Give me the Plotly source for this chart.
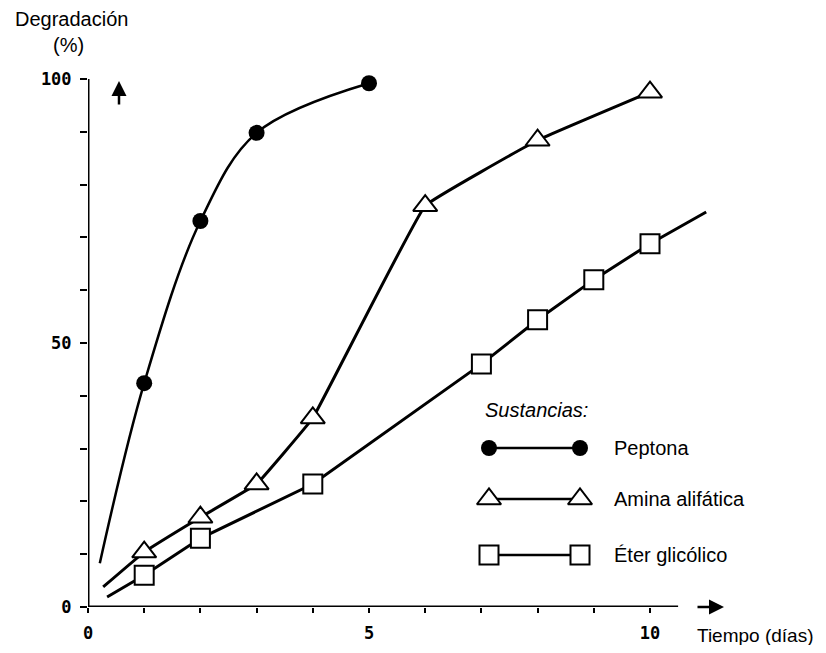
import plotly.graph_objects as go

# ---- data ----
pep_x = [0.21, 1, 2, 3, 5]
pep_y = [8.3, 42.4, 73.1, 89.8, 99.2]
pep_marker = [False, True, True, True, True]

ami_x = [0.27, 1, 2, 3, 4, 6, 8, 10]
ami_y = [3.8, 10.4, 17.0, 23.3, 35.8, 76.0, 88.4, 97.5]
ami_marker = [False, True, True, True, True, True, True, True]

eter_x = [0.34, 1, 2, 4, 7, 8, 9, 10, 11]
eter_y = [1.9, 6.0, 13.0, 23.3, 46.0, 54.4, 62.0, 68.8, 74.8]
eter_marker = [False, True, True, True, True, True, True, True, False]

x_tickvals = [0, 1, 2, 3, 4, 5, 6, 7, 8, 9, 10]
x_ticktext = ["0", "", "", "", "", "5", "", "", "", "", "10"]
y_tickvals = [0, 10, 20, 30, 40, 50, 60, 70, 80, 90, 100]
y_ticktext = ["0", "", "", "", "", "50", "", "", "", "", "100"]

series_names = ["Peptona", "Amina alifática", "Éter glicólico"]
legend_title = "Sustancias:"
y_title = ["Degradación", "(%)"]
x_title = "Tiempo (días)"

OFF = 8                  # page body margin
W, H = 826 - 2 * OFF, 653 - 2 * OFF
X0, XU = 88 - OFF, 56.2  # pixel of x=0, pixels per unit
Y0, Y100 = 607 - OFF, 79 - OFF
XMAX = 11.2

TXT = "Liberation Sans, Arial, sans-serif"
FS = 20

fig = go.Figure()

def sel(v, m):
    return [a for a, k in zip(v, m) if k]

# Peptona
fig.add_trace(go.Scatter(x=pep_x, y=pep_y, mode="lines",
                         line=dict(color="black", width=2.5, shape="spline", smoothing=1.0),
                         showlegend=False, hoverinfo="skip", cliponaxis=False))
fig.add_trace(go.Scatter(x=sel(pep_x, pep_marker), y=sel(pep_y, pep_marker), mode="markers",
                         marker=dict(symbol="circle", size=16, color="black"),
                         showlegend=False, cliponaxis=False))
# Amina
fig.add_trace(go.Scatter(x=ami_x, y=ami_y, mode="lines",
                         line=dict(color="black", width=3, shape="spline", smoothing=0.2),
                         showlegend=False, hoverinfo="skip", cliponaxis=False))
fig.add_trace(go.Scatter(x=sel(ami_x, ami_marker), y=sel(ami_y, ami_marker), mode="markers",
                         marker=dict(symbol="triangle-up", size=21, color="white",
                                     line=dict(color="black", width=2)),
                         showlegend=False, cliponaxis=False))
# Eter
fig.add_trace(go.Scatter(x=eter_x, y=eter_y, mode="lines",
                         line=dict(color="black", width=3),
                         showlegend=False, hoverinfo="skip", cliponaxis=False))
fig.add_trace(go.Scatter(x=sel(eter_x, eter_marker), y=sel(eter_y, eter_marker), mode="markers",
                         marker=dict(symbol="square", size=19, color="white",
                                     line=dict(color="black", width=2)),
                         showlegend=False, cliponaxis=False))

# ---- manual legend on a full-figure pixel axis ----
leg_rows = [448, 499, 555]
leg_styles = [
    dict(symbol="circle", size=16, color="black"),
    dict(symbol="triangle-up", size=21, color="white", line=dict(color="black", width=2)),
    dict(symbol="square", size=19, color="white", line=dict(color="black", width=2)),
]
for yy, st in zip(leg_rows, leg_styles):
    fig.add_trace(go.Scatter(x=[489 - OFF, 580 - OFF], y=[yy - OFF, yy - OFF],
                             mode="lines+markers",
                             line=dict(color="black", width=2.5), marker=st,
                             xaxis="x2", yaxis="y2", showlegend=False, hoverinfo="skip"))

def px(x):
    return (x - OFF) / W

def py(y):
    return 1 - (y - OFF) / H

ann = []
ann.append(dict(x=px(483), y=py(410), xref="paper", yref="paper",
                text="<i>" + legend_title + "</i>",
                showarrow=False, xanchor="left", yanchor="middle",
                font=dict(family=TXT, size=FS, color="black")))
for yy, name in zip(leg_rows, series_names):
    ann.append(dict(x=px(612), y=py(yy), xref="paper", yref="paper", text=name,
                    showarrow=False, xanchor="left", yanchor="middle",
                    font=dict(family=TXT, size=FS, color="black")))
ann.append(dict(x=px(71), y=py(19), xref="paper", yref="paper", text=y_title[0], showarrow=False,
                xanchor="center", yanchor="middle", font=dict(family=TXT, size=FS, color="black")))
ann.append(dict(x=px(68), y=py(45), xref="paper", yref="paper", text=y_title[1], showarrow=False,
                xanchor="center", yanchor="middle", font=dict(family=TXT, size=FS, color="black")))
ann.append(dict(x=px(695), y=py(635), xref="paper", yref="paper", text=x_title, showarrow=False,
                xanchor="left", yanchor="middle", font=dict(family=TXT, size=19, color="black")))
# arrows
ann.append(dict(x=119 - OFF, y=81 - OFF, ax=119 - OFF, ay=106 - OFF, xref="x2", yref="y2",
                axref="x2", ayref="y2", text="", showarrow=True, arrowhead=2, arrowsize=1.2,
                arrowwidth=2.5, arrowcolor="black"))
ann.append(dict(x=724 - OFF, y=607 - OFF, ax=696 - OFF, ay=607 - OFF, xref="x2", yref="y2",
                axref="x2", ayref="y2", text="", showarrow=True, arrowhead=2, arrowsize=1.2,
                arrowwidth=2.5, arrowcolor="black"))

tickfont = dict(family="DejaVu Sans Mono, Liberation Mono, monospace", size=17,
                color="black", weight="bold")

fig.update_layout(
    width=W, height=H,
    margin=dict(l=0, r=0, t=0, b=0, autoexpand=False),
    paper_bgcolor="white", plot_bgcolor="rgba(0,0,0,0)",
    xaxis=dict(domain=[X0 / W, (X0 + XMAX * XU) / W], range=[0, XMAX], anchor="y",
               tickvals=x_tickvals, ticktext=x_ticktext, ticks="outside", ticklen=5,
               tickwidth=2, tickcolor="black", showgrid=False, zeroline=False,
               showline=False, tickfont=tickfont, ticklabelstandoff=6),
    yaxis=dict(domain=[(H - Y0) / H, (H - Y100) / H], range=[0, 100], anchor="x",
               tickvals=y_tickvals, ticktext=y_ticktext, ticks="outside", ticklen=7,
               tickwidth=2, tickcolor="black", showgrid=False, zeroline=False,
               showline=False, tickfont=tickfont, ticklabelstandoff=5),
    xaxis2=dict(domain=[0, 1], range=[0, W], visible=False, anchor="y2", fixedrange=True),
    yaxis2=dict(domain=[0, 1], range=[H, 0], visible=False, anchor="x2", fixedrange=True),
    annotations=ann,
    shapes=[
        dict(type="line", xref="x", yref="y", x0=0, y0=0, x1=10.5, y1=0,
             line=dict(color="black", width=3)),
        dict(type="line", xref="x", yref="y", x0=0, y0=0, x1=0, y1=100.8,
             line=dict(color="black", width=3)),
    ],
)

fig.write_html("out.html")
